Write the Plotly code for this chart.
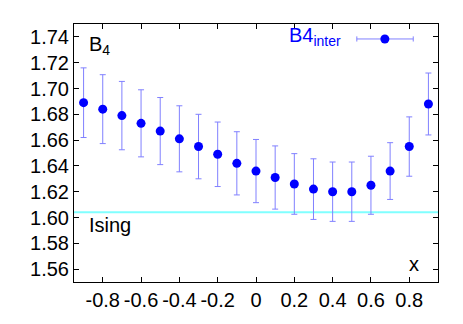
import plotly.graph_objects as go

# B4 cumulant vs x
x_vals = [-0.9, -0.8, -0.7, -0.6, -0.5, -0.4, -0.3, -0.2, -0.1, 0.0,
          0.1, 0.2, 0.3, 0.4, 0.5, 0.6, 0.7, 0.8, 0.9]
b4_inter = [1.689, 1.684, 1.679, 1.673, 1.667, 1.661, 1.655, 1.649, 1.642, 1.636,
            1.631, 1.626, 1.622, 1.620, 1.620, 1.625, 1.636, 1.655, 1.688]
b4_err = [0.027, 0.0267, 0.0265, 0.026, 0.026, 0.0256, 0.025, 0.025, 0.0245, 0.0245,
          0.0245, 0.0235, 0.0235, 0.023, 0.023, 0.0225, 0.022, 0.023, 0.024]
ising_value = 1.604

x_ticks = [-0.8, -0.6, -0.4, -0.2, 0.0, 0.2, 0.4, 0.6, 0.8]
x_ticktext = ["-0.8", "-0.6", "-0.4", "-0.2", "0", "0.2", "0.4", "0.6", "0.8"]
y_ticks = [1.56, 1.58, 1.60, 1.62, 1.64, 1.66, 1.68, 1.70, 1.72, 1.74]

FONT = "Liberation Sans, Arial, Helvetica, sans-serif"
FS = 20
BLUE = "#0000ff"
ERR = "#8080ff"

fig = go.Figure()

# Ising reference line
fig.add_trace(go.Scatter(
    x=[-0.95, 0.95], y=[ising_value, ising_value], mode="lines",
    line=dict(color="#80ffff", width=2), showlegend=False, hoverinfo="skip"))

fig.add_trace(go.Scatter(
    x=x_vals, y=b4_inter, mode="markers", name="B4<sub>inter</sub>",
    marker=dict(color=BLUE, size=9),
    error_y=dict(type="data", array=b4_err, color=ERR, thickness=1, width=3),
    showlegend=False))

axis_common = dict(
    showline=True, linecolor="black", linewidth=1, mirror="ticks",
    ticks="inside", ticklen=5, tickcolor="black", showgrid=False, zeroline=False,
    tickfont=dict(family=FONT, size=FS, color="black"))

fig.update_xaxes(range=[-0.95, 0.95], tickvals=x_ticks, ticktext=x_ticktext, **axis_common)
fig.update_yaxes(range=[1.55, 1.75], tickvals=y_ticks, tickformat=".2f", **axis_common)

# key drawn gnuplot-style: text on the left, sample on the right
fig.add_annotation(text="B4<sub>inter</sub>", xref="paper", yref="paper",
                   x=0.739, y=0.95, xanchor="right", yanchor="middle", showarrow=False,
                   font=dict(family=FONT, size=FS, color=BLUE))
key_y = 0.942
fig.add_shape(type="line", xref="paper", yref="paper", x0=0.777, x1=0.932, y0=key_y, y1=key_y,
              line=dict(color=ERR, width=1))
for kx in (0.777, 0.932):
    fig.add_shape(type="line", xref="paper", yref="paper", x0=kx, x1=kx,
                  y0=key_y - 0.01, y1=key_y + 0.01, line=dict(color=ERR, width=1))
fig.add_shape(type="circle", xref="paper", yref="paper", xsizemode="pixel", ysizemode="pixel",
              xanchor=0.854, yanchor=key_y, x0=-4.5, x1=4.5, y0=-4.5, y1=4.5,
              fillcolor=BLUE, line=dict(color=BLUE, width=0))

fig.add_annotation(text="B<sub>4</sub>", xref="paper", yref="y", x=0.035, y=1.733,
                   xanchor="left", yanchor="middle", showarrow=False,
                   font=dict(family=FONT, size=FS, color="black"))
fig.add_annotation(text="Ising", xref="paper", yref="y", x=0.035, y=1.5945,
                   xanchor="left", yanchor="middle", showarrow=False,
                   font=dict(family=FONT, size=FS, color="black"))
fig.add_annotation(text="x", xref="x", yref="y", x=0.826, y=1.564,
                   xanchor="center", yanchor="middle", showarrow=False,
                   font=dict(family=FONT, size=FS, color="black"))

# page body has an 8px default margin, so the figure is sized to compensate
fig.update_layout(
    width=455, height=316,
    margin=dict(l=66, r=25, t=16, b=42),
    plot_bgcolor="white", paper_bgcolor="white",
    font=dict(family=FONT, size=FS, color="black"),
)

fig.write_html("out.html")
